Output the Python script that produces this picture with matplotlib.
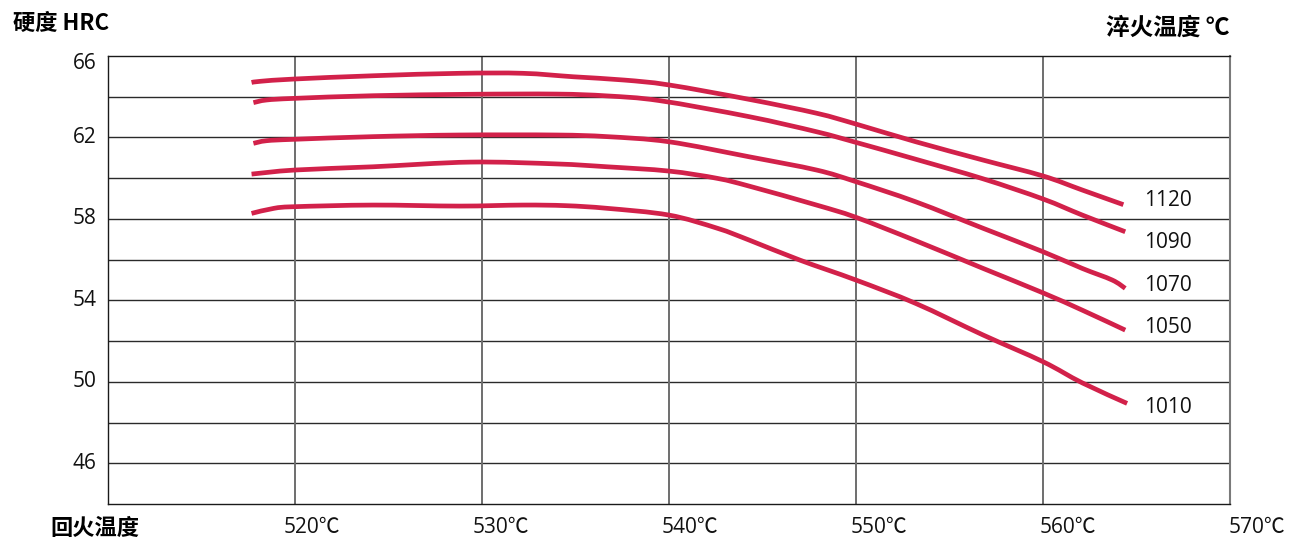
import matplotlib
matplotlib.use("Agg")
import matplotlib.pyplot as plt
from matplotlib.path import Path
from matplotlib.patches import PathPatch
import numpy as np

plt.rcParams['font.family'] = ['Open Sans', 'Noto Sans CJK SC', 'DejaVu Sans']

# Tempering temperature (°C) vs hardness (HRC) for each quenching temperature
series_names = ["1120", "1090", "1070", "1050", "1010"]

temper_1120 = [517.7, 518.2, 520, 524.2, 528.8, 532.2, 534.9, 537.6, 540,
               544.3, 547.9, 550, 553.2, 556.8, 560, 562.1, 564.3]
hrc_1120 = [64.70, 64.76, 64.87, 65.03, 65.15, 65.15, 64.98, 64.82, 64.58,
            63.87, 63.19, 62.66, 61.79, 60.89, 60.11, 59.42, 58.70]

temper_1090 = [517.8, 518.5, 520, 524.2, 529.4, 534, 536.7, 539.5, 544.3,
               547.9, 550, 553.2, 556.8, 560, 562.1, 564.4]
hrc_1090 = [63.71, 63.84, 63.92, 64.05, 64.12, 64.13, 64.04, 63.81, 63.02,
            62.28, 61.76, 60.93, 59.97, 58.98, 58.19, 57.37]

temper_1070 = [517.8, 518.5, 520, 524.2, 528.8, 534, 536.7, 540, 544.3, 547.9,
               550, 553.2, 556.8, 560, 562.1, 563.7, 564.4]
hrc_1070 = [61.71, 61.84, 61.91, 62.04, 62.12, 62.12, 62.04, 61.79, 61.05, 60.40,
            59.83, 58.84, 57.54, 56.39, 55.57, 55.00, 54.59]

temper_1050 = [517.7, 520, 524.2, 529.4, 534, 536.7, 540, 542.6, 544.3,
               547.9, 550, 553.2, 556.8, 560, 562.1, 564.4]
hrc_1050 = [60.20, 60.40, 60.56, 60.79, 60.70, 60.56, 60.35, 59.99, 59.61,
            58.68, 58.08, 56.93, 55.57, 54.37, 53.52, 52.54]

temper_1010 = [517.7, 518.9, 520, 524.2, 528.8, 532.2, 534.5, 536.7, 540, 542.6,
               544.3, 547.0, 550, 553.2, 556.8, 560, 562.1, 564.5]
hrc_1010 = [58.27, 58.52, 58.60, 58.68, 58.63, 58.68, 58.65, 58.52, 58.19, 57.54,
            56.96, 55.98, 55.00, 53.85, 52.30, 50.99, 49.95, 48.94]

x_ticks = [510, 520, 530, 540, 550, 560, 570]
x_tick_labels = ["", "520℃", "530℃", "540℃", "550℃", "560℃", "570℃"]
y_ticks = [44, 46, 48, 50, 52, 54, 56, 58, 60, 62, 64, 66]
y_tick_labels = ["46", "50", "54", "58", "62", "66"]
y_label_values = [46, 50, 54, 58, 62, 66]

curves = [
    (temper_1120, hrc_1120),
    (temper_1090, hrc_1090),
    (temper_1070, hrc_1070),
    (temper_1050, hrc_1050),
    (temper_1010, hrc_1010),
]

RED = "#D2214A"


def smooth_path(xs, ys):
    """Cubic Bezier path through every point (Catmull-Rom tangents)."""
    p = np.column_stack([xs, ys]).astype(float)
    n = len(p)
    verts = [p[0]]
    codes = [Path.MOVETO]
    for i in range(n - 1):
        p0 = p[i - 1] if i > 0 else p[i]
        p1, p2 = p[i], p[i + 1]
        p3 = p[i + 2] if i + 2 < n else p[i + 1]
        c1 = p1 + (p2 - p0) / 6.0
        c2 = p2 - (p3 - p1) / 6.0
        verts += [c1, c2, p2]
        codes += [Path.CURVE4] * 3
    return Path(verts, codes)


fig = plt.figure(figsize=(13.05, 5.4), dpi=100)
ax = fig.add_axes([107.5 / 1305, 36 / 540, (1230 - 107.5) / 1305, (504 - 56) / 540])
ax.set_xlim(510, 570)
ax.set_ylim(44, 66)

# grid: dark horizontals, grey verticals
for yv in y_ticks[1:-1]:
    ax.axhline(yv, color="#2a2a2a", lw=1.0, zorder=1)
for xv in x_ticks[1:-1]:
    ax.axvline(xv, color="#6e6e6e", lw=1.4, zorder=1)

for side in ["left", "bottom", "top"]:
    ax.spines[side].set_color("#1a1a1a")
    ax.spines[side].set_linewidth(1.0)
ax.spines["right"].set_color("#7a7a7a")
ax.spines["right"].set_linewidth(1.5)

ax.set_xticks([])
ax.set_yticks([])

# curves
label_dy = [0.2, -0.55, 0.15, 0.15, -0.2]
for (xs, ys), name, dy in zip(curves, series_names, label_dy):
    ax.add_patch(PathPatch(smooth_path(xs, ys), facecolor="none", edgecolor=RED,
                           lw=3.4, capstyle="butt", joinstyle="round", zorder=3))
    ax.text(565.4, ys[-1] + dy, name, ha="left", va="center",
            fontsize=15, color="#111111", zorder=4)

# y tick labels
for yv, lab in zip(y_label_values, y_tick_labels):
    yy = yv - 0.35 if yv == 66 else yv
    ax.annotate(lab, xy=(0, yy), xycoords=("axes fraction", "data"),
                xytext=(-8, 0), textcoords="offset points",
                ha="right", va="center", fontsize=15, color="#111111")

# x tick labels
for i, (xv, lab) in enumerate(zip(x_ticks, x_tick_labels)):
    if not lab:
        continue
    ax.annotate(lab, xy=(xv, 0), xycoords=("data", "axes fraction"),
                xytext=(11 + 1.4 * i, -17), textcoords="offset points",
                ha="center", va="center", fontsize=15, color="#111111")

# axis titles
fig.text(13 / 1305, 1 - 23 / 540, "硬度 HRC", ha="left", va="center",
         fontsize=16, fontweight="bold", family=["Noto Sans CJK SC", "DejaVu Sans"])
fig.text(1230 / 1305, 1 - 28 / 540, "淬火温度 ℃", ha="right", va="center",
         fontsize=17, fontweight="bold", family=["Noto Sans CJK SC", "DejaVu Sans"])
fig.text(50 / 1305, 1 - 528 / 540, "回火温度", ha="left", va="center",
         fontsize=16, fontweight="bold", family=["Noto Sans CJK SC", "DejaVu Sans"])

fig.savefig("out.png", dpi=100)
